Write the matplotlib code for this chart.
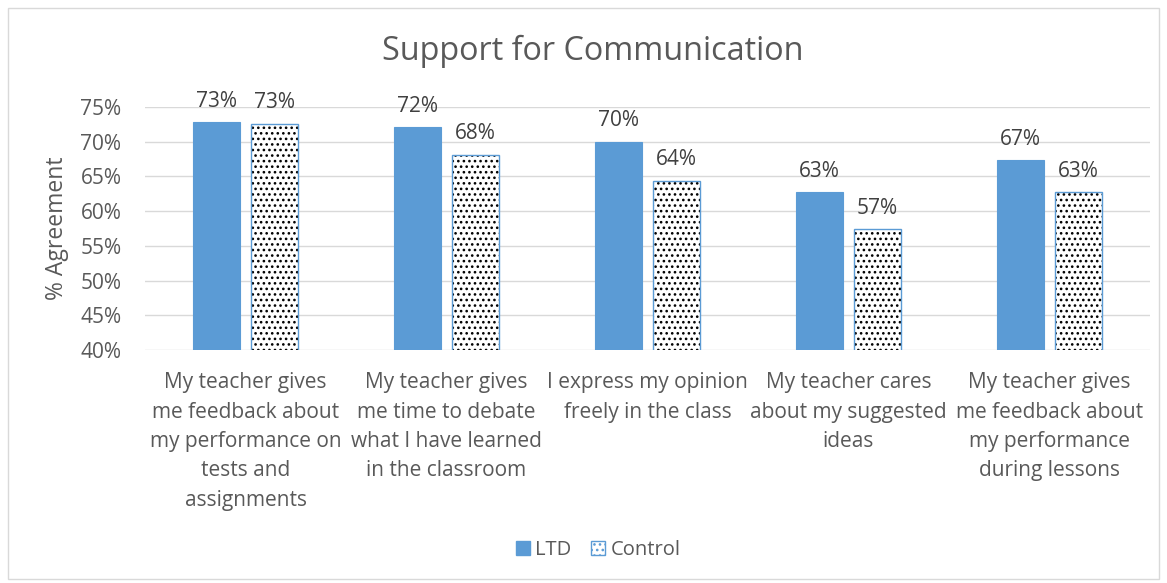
import matplotlib.pyplot as plt
import matplotlib.patches as mpatches
import numpy as np

plt.rcParams['font.family'] = ['Open Sans', 'DejaVu Sans']
plt.rcParams['hatch.linewidth'] = 1.1

categories = ["My teacher gives\nme feedback about\nmy performance on\ntests and\nassignments",
              "My teacher gives\nme time to debate\nwhat I have learned\nin the classroom",
              "I express my opinion\nfreely in the class",
              "My teacher cares\nabout my suggested\nideas",
              "My teacher gives\nme feedback about\nmy performance\nduring lessons"]
ltd = [72.8, 72.1, 70.0, 62.7, 67.3]
control = [72.6, 68.1, 64.4, 57.4, 62.7]
yticks = [40, 45, 50, 55, 60, 65, 70, 75]

blue = '#5B9BD5'
text_col = '#595959'
fs = 15

fig = plt.figure(figsize=(11.67, 5.83), dpi=100)
ax = fig.add_axes([145 / 1167, 1 - 350 / 583, 1005 / 1167, 243 / 583])

x = np.arange(len(categories))
width = 0.234
off = 0.145

ax.bar(x - off, ltd, width, color=blue, edgecolor=blue, linewidth=0.8, zorder=3)
# dotted fill first, then the blue outline on top
ax.bar(x + off, control, width, color='white', edgecolor='black', hatch='...', linewidth=0, zorder=3)
ax.bar(x + off, control, width, color='none', edgecolor=blue, linewidth=1.0, zorder=4)

for xi, v in zip(x - off, ltd):
    ax.text(xi, v + 1.5, f"{v:.0f}%", ha='center', va='bottom', fontsize=fs, color='#404040')
for xi, v in zip(x + off, control):
    ax.text(xi, v + 1.5, f"{v:.0f}%", ha='center', va='bottom', fontsize=fs, color='#404040')

ax.set_ylim(40, 75)
ax.set_xlim(-0.5, len(categories) - 0.5)
ax.set_yticks(yticks)
ax.set_yticklabels([f"{t}%" for t in yticks], fontsize=fs, color=text_col)
ax.set_xticks(x)
ax.set_xticklabels(categories, fontsize=fs, color=text_col, linespacing=1.52, va='top')
ax.tick_params(axis='y', length=0, pad=17)
ax.tick_params(axis='x', length=0, pad=16)
ax.yaxis.grid(True, color='#D9D9D9', linewidth=1.0, zorder=0)
for s in ax.spines.values():
    s.set_visible(False)
ax.set_ylabel('% Agreement', fontsize=16.5, color=text_col)
ax.yaxis.set_label_coords(-0.076, 0.5)
ax.set_axisbelow(True)

fig.suptitle('Support for Communication', fontsize=23.3, color=text_col,
             x=593 / 1167, y=1 - 51 / 583, va='center')

handles = [mpatches.Patch(facecolor=blue, edgecolor=blue),
           mpatches.Patch(facecolor='white', edgecolor=blue, hatch='...')]
fig.legend(handles, ['LTD', 'Control'], loc='center', bbox_to_anchor=(598 / 1167, 1 - 550 / 583),
           ncol=2, frameon=False, fontsize=14.5, handlelength=0.7, handleheight=0.7,
           handletextpad=0.25, columnspacing=1.0, labelcolor=text_col)

fig.patches.append(mpatches.Rectangle((8 / 1167, 4 / 583), 1151 / 1167, 571 / 583,
                                      transform=fig.transFigure, fill=False,
                                      edgecolor='#D9D9D9', linewidth=1.0))

fig.savefig('out.png', dpi=100)
